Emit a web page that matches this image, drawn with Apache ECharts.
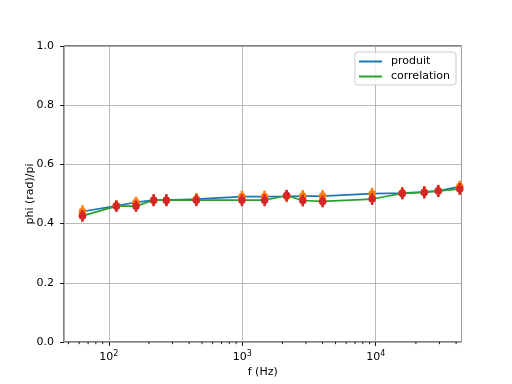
<!DOCTYPE html>
<html>
<head>
<meta charset="utf-8">
<script src="https://cdn.jsdelivr.net/npm/echarts@6/dist/echarts.min.js"></script>
<style>html,body{margin:0;padding:0;background:#fff;}#c{width:512px;height:384px;}</style>
</head>
<body>
<div id="c"></div>
<script>
// Data
var freq = [63.5, 114, 160, 217, 270, 453, 995, 1470, 2150, 2840, 4000, 9400, 15800, 23100, 29400, 42600];
var produit = [0.441, 0.460, 0.472, 0.479, 0.479, 0.483, 0.491, 0.491, 0.492, 0.493, 0.493, 0.501, 0.503, 0.507, 0.511, 0.525];
var produitErr = [0.021, 0.019, 0.019, 0.02, 0.02, 0.02, 0.02, 0.02, 0.02, 0.02, 0.02, 0.02, 0.02, 0.02, 0.02, 0.02];
var correlation = [0.426, 0.459, 0.459, 0.479, 0.479, 0.479, 0.479, 0.479, 0.495, 0.478, 0.475, 0.483, 0.502, 0.505, 0.510, 0.517];
var correlationErr = [0.02, 0.019, 0.019, 0.02, 0.02, 0.02, 0.02, 0.02, 0.019, 0.02, 0.02, 0.02, 0.02, 0.02, 0.02, 0.02];
var yTicks = [0, 0.2, 0.4, 0.6, 0.8, 1.0];
var minorTickValues = [50, 60, 70, 80, 90, 200, 300, 400, 500, 600, 700, 800, 900, 2000, 3000, 4000, 5000, 6000, 7000, 8000, 9000, 20000, 30000, 40000];

var FONT = 'DejaVu Sans';
function pairs(xs, ys) { return xs.map(function (x, i) { return [x, ys[i]]; }); }
function triples(xs, ys, es) { return xs.map(function (x, i) { return [x, ys[i], es[i]]; }); }

function errRender(color) {
  return function (params, api) {
    var x = api.value(0), y = api.value(1), e = api.value(2);
    var top = api.coord([x, y + e]);
    var bot = api.coord([x, y - e]);
    var c = api.coord([x, y]);
    return {
      type: 'group',
      children: [
        { type: 'line', shape: { x1: top[0], y1: top[1], x2: bot[0], y2: bot[1] }, style: { stroke: color, lineWidth: 2.6 } },
        { type: 'circle', shape: { cx: c[0], cy: c[1], r: 3.8 }, style: { fill: color } }
      ]
    };
  };
}

var chart = echarts.init(document.getElementById('c'), null, { renderer: 'canvas' });
chart.setOption({
  animation: false,
  backgroundColor: '#fff',
  textStyle: { fontFamily: FONT },
  grid: { left: 64, right: 50.5, top: 46, bottom: 42, show: true, borderColor: '#000', borderWidth: 1, backgroundColor: 'transparent' },
  legend: {
    right: 56, top: 52,
    orient: 'vertical',
    backgroundColor: 'rgba(255,255,255,0.8)',
    borderColor: '#cccccc', borderWidth: 1, borderRadius: 3,
    padding: [4, 6, 3, 4],
    itemGap: 4,
    itemWidth: 23, itemHeight: 2,
    icon: 'rect',
    textStyle: { fontFamily: FONT, fontSize: 11, color: '#000', padding: [0, 0, 0, 4] },
    data: ['produit', 'correlation']
  },
  xAxis: {
    type: 'log', logBase: 10, min: 46.2, max: 43900,
    name: 'f (Hz)', nameLocation: 'middle', nameGap: 25,
    nameMoveOverlap: false,
    nameTextStyle: { fontFamily: FONT, fontSize: 11, color: '#000' },
    axisLine: { show: false },
    axisTick: { show: true, length: 4, lineStyle: { color: '#000', width: 0.9 } },
    splitLine: { show: true, lineStyle: { color: '#b0b0b0', width: 0.9 } },
    axisLabel: {
      margin: 8, color: '#000', fontFamily: FONT, fontSize: 11,
      showMinLabel: false, showMaxLabel: false,
      formatter: function (v) {
        var l = Math.log10(v), r = Math.round(l);
        if (Math.abs(l - r) < 1e-6) return '{b|10}{s|' + r + '}';
        return '';
      },
      rich: {
        b: { fontFamily: FONT, fontSize: 11, color: '#000' },
        s: { fontFamily: FONT, fontSize: 8, color: '#000', padding: [0, 0, 6, 0] }
      }
    }
  },
  yAxis: {
    type: 'value', min: 0, max: 1, interval: 0.2,
    name: 'phi (rad)/pi', nameLocation: 'middle', nameGap: 28, nameRotate: 90,
    nameMoveOverlap: false,
    nameTextStyle: { fontFamily: FONT, fontSize: 11, color: '#000' },
    axisLine: { show: false },
    axisTick: { show: true, length: 4, lineStyle: { color: '#000', width: 0.9 } },
    splitLine: { show: true, lineStyle: { color: '#b0b0b0', width: 0.9 } },
    axisLabel: {
      margin: 10, color: '#000', fontFamily: FONT, fontSize: 11,
      formatter: function (v) { return v.toFixed(1); }
    }
  },
  series: [
    {
      name: 'minor', type: 'custom', clip: false, silent: true, z: 1,
      data: minorTickValues.map(function (v) { return [v, 0]; }),
      renderItem: function (params, api) {
        var p = api.coord([api.value(0), 0]);
        return { type: 'line', shape: { x1: p[0], y1: p[1], x2: p[0], y2: p[1] + 2.2 }, style: { stroke: '#000', lineWidth: 0.9 } };
      }
    },
    {
      name: 'produit', type: 'line', data: pairs(freq, produit),
      showSymbol: false, symbol: 'none', color: '#1f77b4',
      lineStyle: { width: 1.7, color: '#1f77b4' }, z: 2
    },
    {
      name: 'correlation', type: 'line', data: pairs(freq, correlation),
      showSymbol: false, symbol: 'none', color: '#2ca02c',
      lineStyle: { width: 1.7, color: '#2ca02c' }, z: 2
    },
    {
      name: 'produitErr', type: 'custom', z: 3, clip: false,
      data: triples(freq, produit, produitErr),
      renderItem: errRender('#ff7f0e')
    },
    {
      name: 'correlationErr', type: 'custom', z: 4, clip: false,
      data: triples(freq, correlation, correlationErr),
      renderItem: errRender('#d62728')
    }
  ]
});
</script>
</body>
</html>
